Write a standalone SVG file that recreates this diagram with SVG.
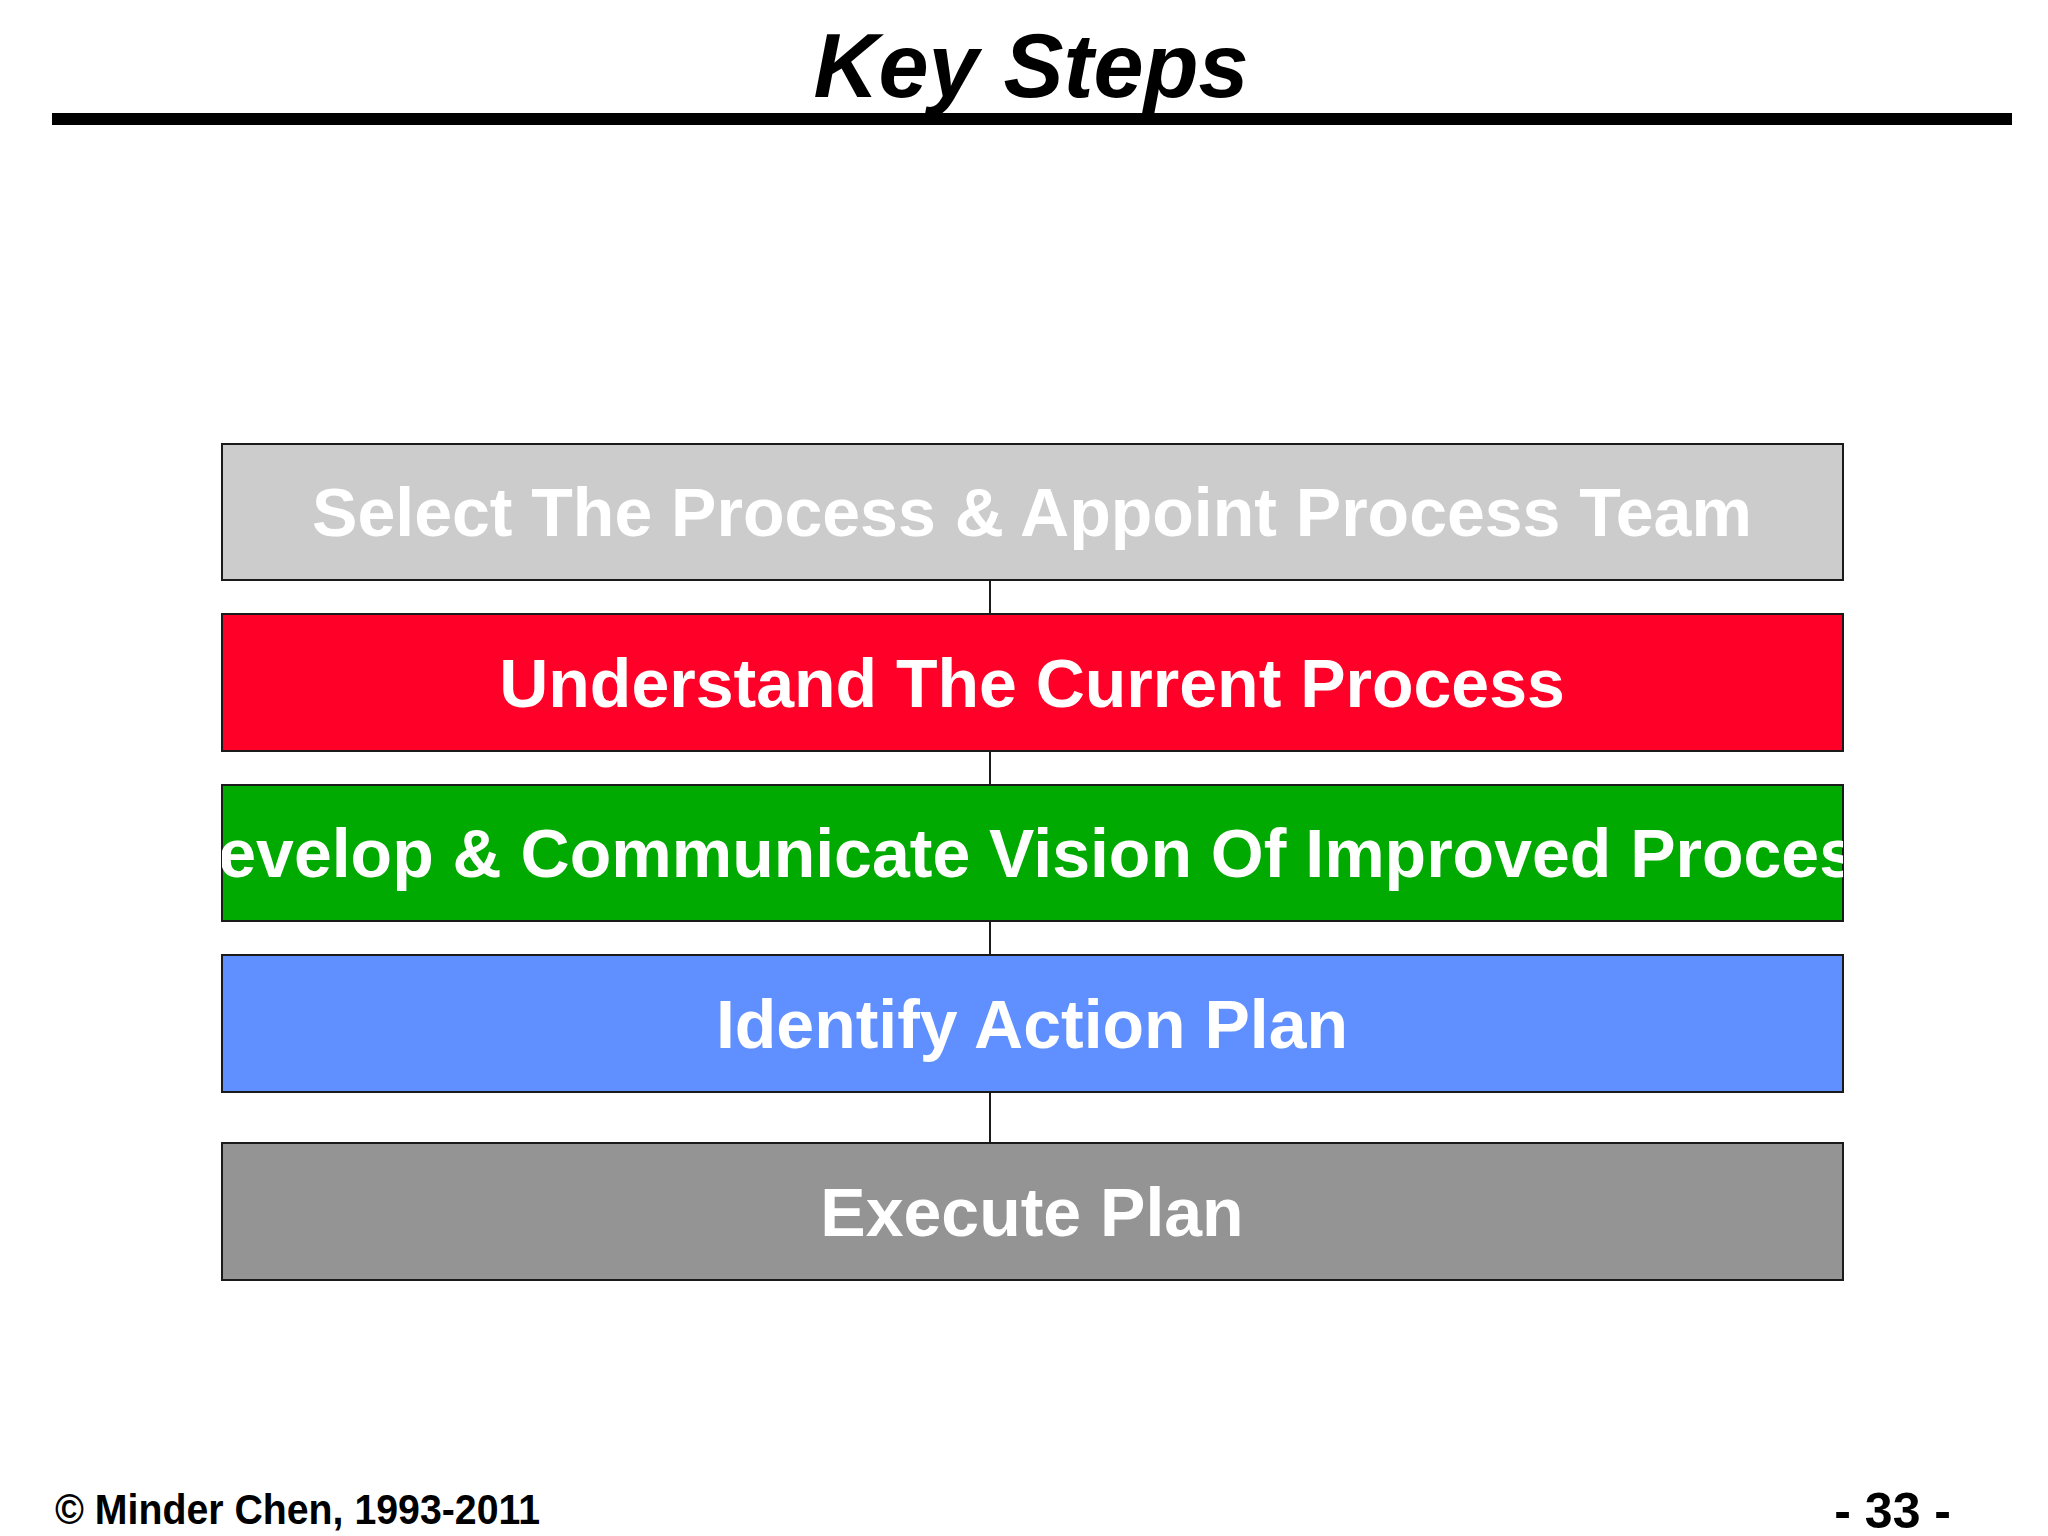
<svg xmlns="http://www.w3.org/2000/svg" width="2048" height="1536" viewBox="0 0 2048 1536">
<style>
.box{stroke:#1a1a1a;stroke-width:2}
.lbl{font-family:"Liberation Sans",Arial,sans-serif;font-weight:bold;font-size:68px;fill:#ffffff;text-anchor:middle}
.conn{stroke:#1a1a1a;stroke-width:2;fill:none}
.foot{font-family:"Liberation Sans",Arial,sans-serif;font-weight:bold;fill:#000000}
</style>
<defs>
<clipPath id="clip3"><rect x="222" y="785" width="1621" height="136"/></clipPath>
</defs>
<rect x="0" y="0" width="2048" height="1536" fill="#ffffff"/>
<g id="title">
<text x="1031" y="97" font-family="'Liberation Sans',Arial,sans-serif" font-weight="bold" font-style="italic" font-size="90" text-anchor="middle" fill="#000000">Key Steps</text>
<rect x="52" y="113" width="1960" height="12" fill="#000000"/>
</g>
<g id="connectors">
<line class="conn" x1="990" y1="580" x2="990" y2="614"/>
<line class="conn" x1="990" y1="751" x2="990" y2="785"/>
<line class="conn" x1="990" y1="921" x2="990" y2="955"/>
<line class="conn" x1="990" y1="1092" x2="990" y2="1143"/>
</g>
<g id="step1">
<rect class="box" x="222" y="444" width="1621" height="136" fill="#cccccc"/>
<text class="lbl" x="1032" y="536">Select The Process &amp; Appoint Process Team</text>
</g>
<g id="step2">
<rect class="box" x="222" y="614" width="1621" height="137" fill="#ff0028"/>
<text class="lbl" x="1032" y="707">Understand The Current Process</text>
</g>
<g id="step3">
<rect class="box" x="222" y="785" width="1621" height="136" fill="#00aa00"/>
<text class="lbl" x="1032" y="877" clip-path="url(#clip3)">Develop &amp; Communicate Vision Of Improved Process</text>
</g>
<g id="step4">
<rect class="box" x="222" y="955" width="1621" height="137" fill="#6090ff"/>
<text class="lbl" x="1032" y="1048">Identify Action Plan</text>
</g>
<g id="step5">
<rect class="box" x="222" y="1143" width="1621" height="137" fill="#949494"/>
<text class="lbl" x="1032" y="1236">Execute Plan</text>
</g>
<g id="footer">
<text class="foot" x="55" y="1524" font-size="43" textLength="485" lengthAdjust="spacingAndGlyphs">© Minder Chen, 1993-2011</text>
<text class="foot" x="1951" y="1528" font-size="50" text-anchor="end">- 33 -</text>
</g>
</svg>
